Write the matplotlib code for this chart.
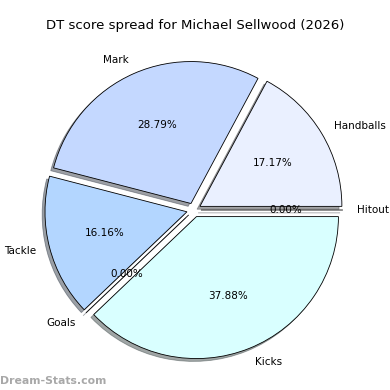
import matplotlib
matplotlib.use("Agg")
from matplotlib import pyplot as plt

labels = ['Handballs', 'Mark', 'Tackle', 'Goals', 'Kicks', 'Hitout']
points = [34, 57, 32, 0, 75, 0]
colors = ['#eaf0ff', '#c4d8ff', '#b3d6ff', '#cce0ff', '#d9ffff', '#e0e8ff']
explode = [0.05, 0.05, 0.05, 0.05, 0.05, 0.05]

fig = plt.figure(figsize=(3.9, 3.9), dpi=100)
ax = fig.add_axes([0.042, 0.0065, 0.91, 0.91])
ax.pie(points, labels=labels, colors=colors, explode=explode, autopct='%1.2f%%',
       shadow={'ox': -0.0144, 'oy': -0.0144}, startangle=0,
       wedgeprops={'edgecolor': 'black', 'linewidth': 0.6},
       textprops={'fontsize': 7.5})
ax.set_aspect('equal')
ax.set_xlim(-1.25, 1.25)
ax.set_ylim(-1.25, 1.25)
fig.suptitle('DT score spread for Michael Sellwood (2026)', fontsize=9.5, y=0.95)
fig.text(0.0, 0.016, 'Dream-Stats.com', fontsize=7.8, color='#a8a8a8', fontweight='semibold')

fig.savefig('out.png', dpi=100)
